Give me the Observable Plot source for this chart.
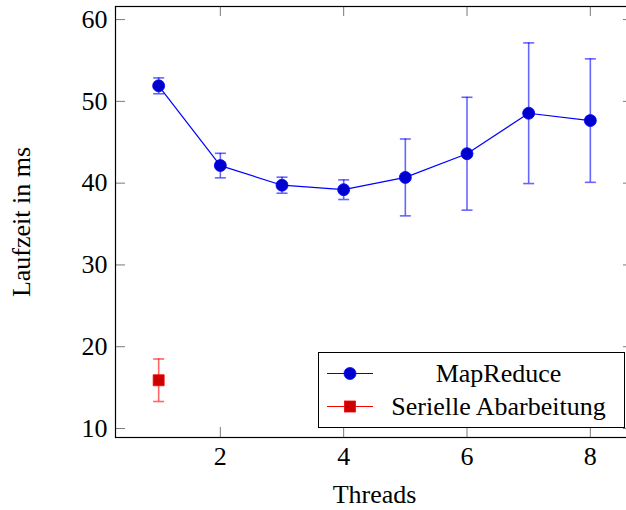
<!DOCTYPE html>
<html>
<head>
<meta charset="utf-8">
<script src="https://cdn.jsdelivr.net/npm/d3@7"></script>
<script src="https://cdn.jsdelivr.net/npm/@observablehq/plot@0.6"></script>
<style>
  html, body { margin: 0; padding: 0; background: #fff; overflow: hidden; }
  #wrap { position: relative; width: 626px; height: 510px; overflow: hidden; }
  #wrap > svg { max-width: none !important; }
  #legend {
    position: absolute; left: 318px; top: 352px; width: 307px; height: 76px;
    border: 1px solid #000; background: #fff; box-sizing: border-box;
    font-family: 'Liberation Serif', serif; font-size: 26px; color: #000;
    padding-top: 4px;
  }
  .row { display: flex; align-items: center; height: 33px; }
  .row svg { margin-left: 8px; flex: none; }
  .row span { flex: 1; text-align: center; white-space: nowrap; }
</style>
</head>
<body>
<div id="wrap"></div>
<script>
// Data
const threads = [1, 2, 3, 4, 5, 6, 7, 8];
const mapReduceMean = [51.9, 42.15, 39.75, 39.2, 40.7, 43.6, 48.55, 47.65];
const mapReduceErr = [0.97, 1.5, 0.98, 1.2, 4.7, 6.9, 8.6, 7.55];
const serialThreads = [1];
const serialMean = [15.9];
const serialErr = [2.6];
const xTicks = [2, 4, 6, 8];
const yTicks = [10, 20, 30, 40, 50, 60];
const seriesNames = ["MapReduce", "Serielle Abarbeitung"];
const xLabel = "Threads";
const yLabel = "Laufzeit in ms";

const mr = threads.map((t, i) => ({t, m: mapReduceMean[i], e: mapReduceErr[i]}));
const se = serialThreads.map((t, i) => ({t, m: serialMean[i], e: serialErr[i]}));

// horizontal cap symbol for error bars
const capSymbol = {
  draw(ctx, size) {
    const h = Math.sqrt(size / Math.PI);
    ctx.moveTo(-h, 0);
    ctx.lineTo(h, 0);
  }
};

const W = 634, H = 510, mL = 115, mR = 1, mT = 6, mB = 73;
const innerW = W - mL - mR, innerH = H - mT - mB;
const tickLen = 10;
const tickColor = "#7a7a7a";

function errorMarks(data, color) {
  return [
    Plot.ruleX(data, {x: "t", y1: d => d.m - d.e, y2: d => d.m + d.e, stroke: color, strokeOpacity: 0.6, strokeWidth: 1.6}),
    Plot.dot(data, {x: "t", y: d => d.m + d.e, symbol: capSymbol, r: 5.5, stroke: color, strokeOpacity: 0.6, strokeWidth: 1.6, fill: "none"}),
    Plot.dot(data, {x: "t", y: d => d.m - d.e, symbol: capSymbol, r: 5.5, stroke: color, strokeOpacity: 0.6, strokeWidth: 1.6, fill: "none"})
  ];
}

const chart = Plot.plot({
  width: W, height: H,
  marginLeft: mL, marginRight: mR, marginTop: mT, marginBottom: mB,
  x: {type: "linear", domain: [0.3, 8.7]},
  y: {type: "linear", domain: [8.9, 61.6]},
  style: {fontFamily: "'Liberation Serif', serif", fontSize: "26px", background: "#fff", color: "#000", maxWidth: "none"},
  marks: [
    // inward ticks (bottom, top, left, right)
    Plot.tickX(xTicks, {x: d => d, insetTop: innerH - tickLen, stroke: tickColor}),
    Plot.tickX(xTicks, {x: d => d, insetBottom: innerH - tickLen, stroke: tickColor}),
    Plot.tickY(yTicks, {y: d => d, insetRight: innerW - tickLen, stroke: tickColor}),
    Plot.tickY(yTicks, {y: d => d, insetLeft: innerW - tickLen, stroke: tickColor}),
    Plot.axisX(xTicks, {anchor: "bottom", tickSize: 0, tickPadding: 9, label: xLabel, labelAnchor: "center", labelOffset: 65, labelArrow: "none"}),
    Plot.axisY(yTicks, {anchor: "left", tickSize: 0, tickPadding: 8, label: yLabel, labelAnchor: "center", labelOffset: 104, labelArrow: "none"}),
    ...errorMarks(mr, "#0000ff"),
    ...errorMarks(se, "#ff0000"),
    Plot.line(mr, {x: "t", y: "m", stroke: "#0000ff", strokeWidth: 1.2}),
    Plot.dot(mr, {x: "t", y: "m", r: 6, fill: "#0000cc", stroke: "#0000ff", strokeWidth: 0.8}),
    Plot.dot(se, {x: "t", y: "m", symbol: "square", r: 6.2, fill: "#cc0000", stroke: "#ff0000", strokeWidth: 0.8}),
    Plot.frame({stroke: "#000", strokeWidth: 1.2})
  ]
});

const wrap = document.getElementById("wrap");
wrap.appendChild(chart);

// Legend box inside the plot area
const legend = document.createElement("div");
legend.id = "legend";
const swatches = [
  {color: "#0000ff", fill: "#0000cc", shape: "circle"},
  {color: "#ff0000", fill: "#cc0000", shape: "square"}
];
seriesNames.forEach((name, i) => {
  const s = swatches[i];
  const row = document.createElement("div");
  row.className = "row";
  const marker = s.shape === "circle"
    ? `<circle cx="23" cy="16.5" r="6" fill="${s.fill}" stroke="${s.color}" stroke-width="0.8"/>`
    : `<rect x="17.5" y="11" width="11" height="11" fill="${s.fill}" stroke="${s.color}" stroke-width="0.8"/>`;
  row.innerHTML = `<svg width="46" height="33"><line x1="0" x2="46" y1="16.5" y2="16.5" stroke="${s.color}" stroke-width="1.2"/>${marker}</svg><span>${name}</span>`;
  legend.appendChild(row);
});
wrap.appendChild(legend);
</script>
</body>
</html>
